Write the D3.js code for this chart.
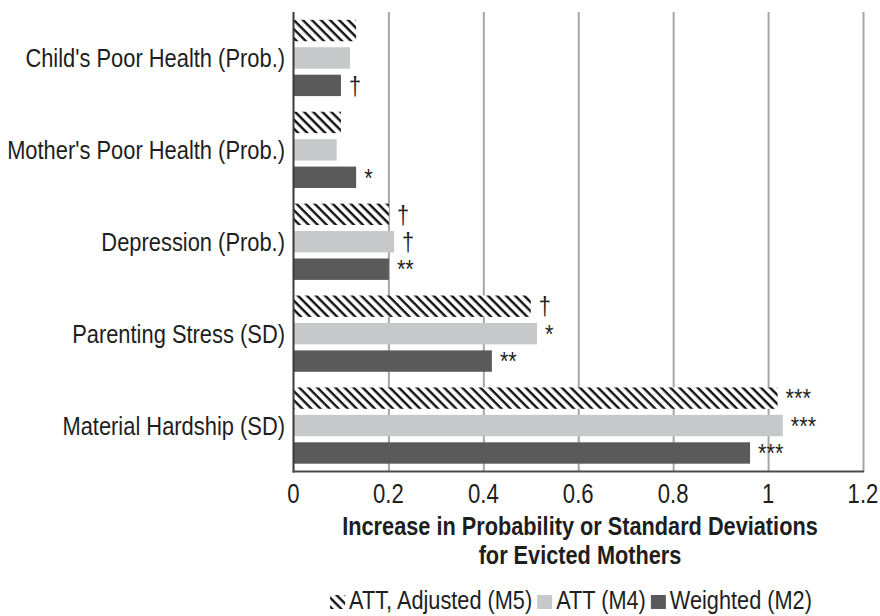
<!DOCTYPE html>
<html><head><meta charset="utf-8">
<script src="https://cdn.jsdelivr.net/npm/d3@7"></script>
<style>
html,body{margin:0;padding:0;background:#fff;}
svg{display:block;font-family:"Liberation Sans",Arial,sans-serif;}
</style></head>
<body>
<svg id="c" width="880" height="616"></svg>
<script>
const categories = ["Child's Poor Health (Prob.)","Mother's Poor Health (Prob.)","Depression (Prob.)","Parenting Stress (SD)","Material Hardship (SD)"];
const seriesNames = ["ATT, Adjusted (M5)","ATT (M4)","Weighted (M2)"];
const attAdjusted = [0.132, 0.100, 0.201, 0.500, 1.020];
const att = [0.119, 0.091, 0.212, 0.513, 1.031];
const weighted = [0.100, 0.132, 0.201, 0.418, 0.962];
const sigAdjusted = ["", "", "†", "†", "***"];
const sigAtt = ["", "", "†", "*", "***"];
const sigWeighted = ["†", "*", "**", "**", "***"];
const tickValues = [0, 0.2, 0.4, 0.6, 0.8, 1, 1.2];
const tickLabels = ["0","0.2","0.4","0.6","0.8","1","1.2"];
const xTitle = ["Increase in Probability or Standard Deviations","for Evicted Mothers"];

const seriesValues = [attAdjusted, att, weighted];
const seriesSig = [sigAdjusted, sigAtt, sigWeighted];
const fills = ["url(#hatch)", "#c7c8c9", "#5a5a5b"];
const textColor = "#1e1e1e";
const NARROW = 0.82;

const svg = d3.select("#c");
const defs = svg.append("defs");
const pat = defs.append("pattern").attr("id","hatch").attr("patternUnits","userSpaceOnUse")
  .attr("width",6.4).attr("height",6.4).attr("patternTransform","rotate(-45)");
pat.append("rect").attr("width",6.4).attr("height",6.4).attr("fill","#fff");
pat.append("line").attr("x1",1.6).attr("y1",-1).attr("x2",1.6).attr("y2",8).attr("stroke","#111").attr("stroke-width",2.4);

// condensed text: positioned by a transform, horizontally scaled
function ntext(parent, px, py, str, size, opts={}){
  const t = parent.append("text")
    .attr("transform",`translate(${px},${py}) scale(${NARROW},1)`)
    .attr("font-size",size).attr("fill",textColor).text(str);
  if(opts.anchor) t.attr("text-anchor",opts.anchor);
  if(opts.dy) t.attr("dy",opts.dy);
  if(opts.bold) t.attr("font-weight","bold");
  return t;
}

const pLeft = 293.5, pRight = 863, pTop = 12, pBottom = 471.5;
const x = d3.scaleLinear().domain([0,1.2]).range([pLeft,pRight]);
const y = d3.scaleBand().domain(categories).range([pTop,pBottom]).paddingInner(0.17).paddingOuter(0.085);
const ys = d3.scaleBand().domain(d3.range(3)).range([0,y.bandwidth()]).paddingInner(0.22);

// gridlines
const grid = svg.append("g").attr("transform",`translate(0,${pBottom})`)
  .call(d3.axisBottom(x).tickValues(tickValues.slice(1)).tickSize(-(pBottom-pTop)).tickFormat(""));
grid.select(".domain").remove();
grid.selectAll(".tick line").attr("stroke","#a6a6a6").attr("stroke-width",2);

// bars
categories.forEach((c,ci)=>{
  seriesValues.forEach((vals,si)=>{
    const yy = y(c)+ys(si);
    svg.append("rect").attr("x",x(0)).attr("y",yy).attr("width",x(vals[ci])-x(0)).attr("height",ys.bandwidth())
      .attr("fill",fills[si]);
    const s = seriesSig[si][ci];
    if(s) ntext(svg, x(vals[ci])+8, yy+ys.bandwidth()/2, s, 26.5, {dy:"0.35em"});
  });
});

// axes lines
svg.append("line").attr("x1",pLeft).attr("x2",pLeft).attr("y1",pTop).attr("y2",pBottom+1).attr("stroke","#3a3a3a").attr("stroke-width",2);
svg.append("line").attr("x1",pLeft-1).attr("x2",pRight+1).attr("y1",pBottom).attr("y2",pBottom).attr("stroke","#4a4a4a").attr("stroke-width",2);

// x tick labels (positions from the axis scale)
const xa = svg.append("g");
tickValues.forEach((v,i)=>{
  ntext(xa, x(v), pBottom+31, tickLabels[i], 27, {anchor:"middle"});
});

// y labels
categories.forEach(c=>{
  ntext(svg, 285, y(c)+y.bandwidth()/2, c, 26.7, {anchor:"end", dy:"0.35em"});
});

// x title
xTitle.forEach((t,i)=>{
  ntext(svg, 580, 535+i*29, t, 26.5, {anchor:"middle", bold:true});
});

// legend
const lg = svg.append("g");
let cx = 0;
seriesNames.forEach((n,i)=>{
  lg.append("rect").attr("x",cx).attr("y",-14).attr("width",15).attr("height",14).attr("fill",fills[i]);
  const t = ntext(lg, cx+19, 0, n, 26.5);
  const w = t.node().getComputedTextLength()*NARROW;
  cx += 19 + w + 5;
});
const totalW = cx - 5;
lg.attr("transform",`translate(${571 - totalW/2},609)`);
</script>
</body></html>
